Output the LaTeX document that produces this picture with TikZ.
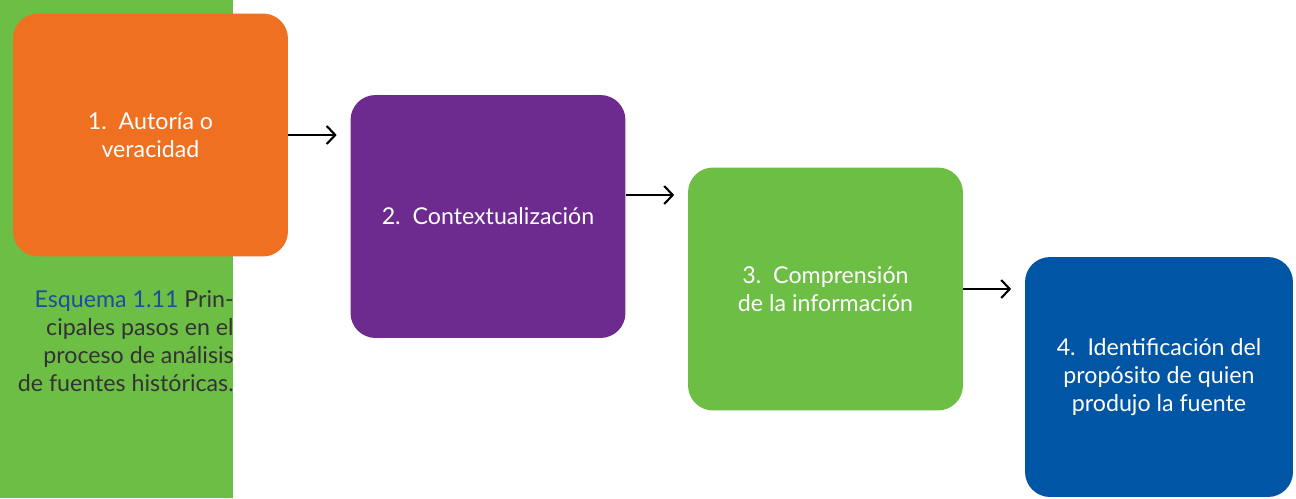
\documentclass[tikz,border=0pt]{standalone}
\usepackage{fontspec}
\setmainfont{Lato}
\usetikzlibrary{arrows.meta,positioning}

\definecolor{stripgreen}{HTML}{6CBE45}
\definecolor{stepor}{HTML}{F07022}
\definecolor{steppu}{HTML}{6D2B8F}
\definecolor{stepgr}{HTML}{6DBE45}
\definecolor{stepbl}{HTML}{0055A5}
\definecolor{capblue}{HTML}{1B4F9C}
\definecolor{capgray}{HTML}{333333}

\begin{document}
\begin{tikzpicture}[
  x=0.02cm, y=-0.02cm,
  stage/.style = {fill=#1, rounded corners=0.5cm, text=white, align=center,
    minimum width=5.5cm, minimum height=4.86cm, inner sep=0pt,
    font=\fontsize{13.2}{16}\selectfont},
  flow/.style = {line width=1.2pt, -{Straight Barb[length=1.7mm,width=3.6mm]},
    shorten >=2.7mm}
  ]
  \useasboundingbox (0,0) rectangle (1296,498);
  \fill[stripgreen] (0,0) rectangle (233,498);
  % the four steps
  \node[stage=stepor] (autoria) at (150.5,135) {1.\ \ Autoría o\\veracidad};
  \node[stage=steppu] (contexto) at (488,216.5) {2.\ \ Contextualización};
  \node[stage=stepgr] (comprension) at (825.5,289) {3.\ \ Comprensión\\de la información};
  \node[stage=stepbl, minimum width=5.36cm, minimum height=4.8cm]
    (proposito) at (1159,377) {4.\ \ Identificación del\\propósito de quien\\produjo la fuente};
  % arrows between steps
  \coordinate (a2) at ([yshift=4.3mm]contexto.east);
  \draw[flow] (autoria.east) -- (autoria.east -| contexto.west);
  \draw[flow] (a2) -- (a2 -| comprension.west);
  \draw[flow] (comprension.east) -- (comprension.east -| proposito.west);
  % caption
  \node[anchor=east, align=right, inner sep=0pt, text=capgray,
    font=\fontsize{13.2}{16}\selectfont] (esquema) at (234,341)
    {\textcolor{capblue}{Esquema 1.11} Prin-\\cipales pasos en el\\proceso de análisis\\de fuentes históricas.};
\end{tikzpicture}
\end{document}
